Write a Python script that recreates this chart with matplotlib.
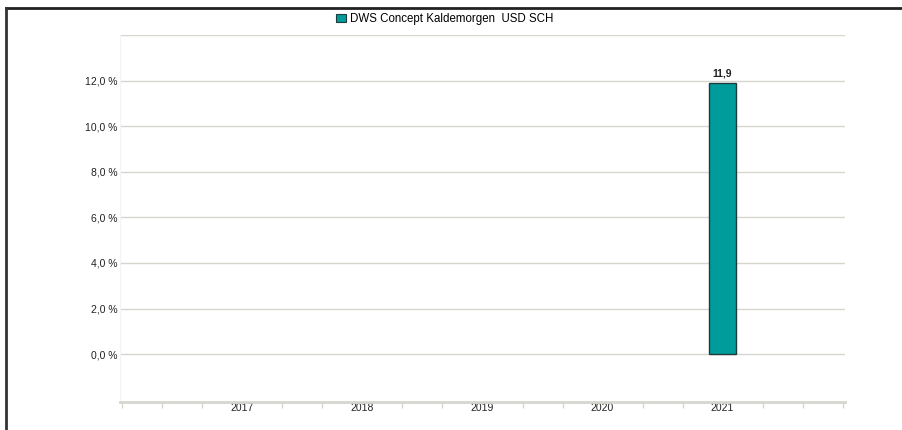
import matplotlib
matplotlib.use("Agg")
import matplotlib.pyplot as plt
from matplotlib.lines import Line2D
from matplotlib.patches import Patch
import numpy as np

years = ["2017", "2018", "2019", "2020", "2021"]
values = [np.nan, np.nan, np.nan, np.nan, 11.9]
series_name = "DWS Concept Kaldemorgen  USD SCH"
yticks = [0, 2, 4, 6, 8, 10, 12]
ytick_labels = ["0,0 %", "2,0 %", "4,0 %", "6,0 %", "8,0 %", "10,0 %", "12,0 %"]

W, H = 903, 430
fig = plt.figure(figsize=(W / 100, H / 100), dpi=100)
fig.patch.set_facecolor("white")

left, right, top, bottom = 120, 845, 35, 402
ax = fig.add_axes([left / W, 1 - bottom / H, (right - left) / W, (bottom - top) / H])

x = np.arange(len(years))
bar_color = "#009C9C"
ax.bar(x, values, width=0.225, color=bar_color, edgecolor="#1f3c3c", linewidth=1.0, zorder=3)
for xi, v in zip(x, values):
    if not np.isnan(v):
        ax.text(xi, v + 0.2, f"{v:.1f}".replace(".", ","), ha="center", va="bottom",
                fontsize=7.5, color="#222222", family="Liberation Sans", fontweight="bold")

ax.set_ylim(-2.1, 14)
ax.set_xlim(-1.02, 5.02)

for yv in yticks + [14]:
    ax.axhline(yv, color="#d6d6cf", linewidth=1.0, zorder=1)

ax.set_yticks(yticks)
ax.set_yticklabels(ytick_labels, family="Liberation Sans", fontsize=7.5, color="#222222")
ax.tick_params(axis="y", length=0, pad=2)

ax.set_xticks(x)
ax.set_xticklabels(years, family="Liberation Sans", fontsize=7.5, color="#222222")
ax.tick_params(axis="x", length=0, pad=0.5)
minor = [(-1 + k / 3) for k in range(19)]
minor = [m for m in minor if abs(m - round(m)) > 1e-6 or round(m) < 0 or round(m) > 4]
ax.set_xticks(minor, minor=True)
ax.tick_params(axis="x", which="minor", length=4, width=1.0, color="#d6d6cf", direction="out")

for s in ["top", "right"]:
    ax.spines[s].set_visible(False)
ax.spines["left"].set_color("#f3f3f3")
ax.spines["left"].set_linewidth(0.8)
ax.spines["bottom"].set_color("#d6d6cf")
ax.spines["bottom"].set_linewidth(2.0)

handle = Patch(facecolor=bar_color, edgecolor="#1f3c3c", linewidth=0.8)
fig.legend([handle], [series_name], loc="center", bbox_to_anchor=(445 / W, 1 - 19 / H),
           frameon=False, prop={"family": "Liberation Sans", "size": 8.3},
           handlelength=0.8, handleheight=0.8, handletextpad=0.4, borderpad=0)

fig.add_artist(Line2D([6 / W, 1], [1 - 8 / H, 1 - 8 / H], color="#222222", linewidth=2.0,
                      transform=fig.transFigure))
fig.add_artist(Line2D([6.5 / W, 6.5 / W], [0, 1 - 8 / H], color="#333333", linewidth=2.0,
                      transform=fig.transFigure))

fig.savefig("out.png", dpi=100)
